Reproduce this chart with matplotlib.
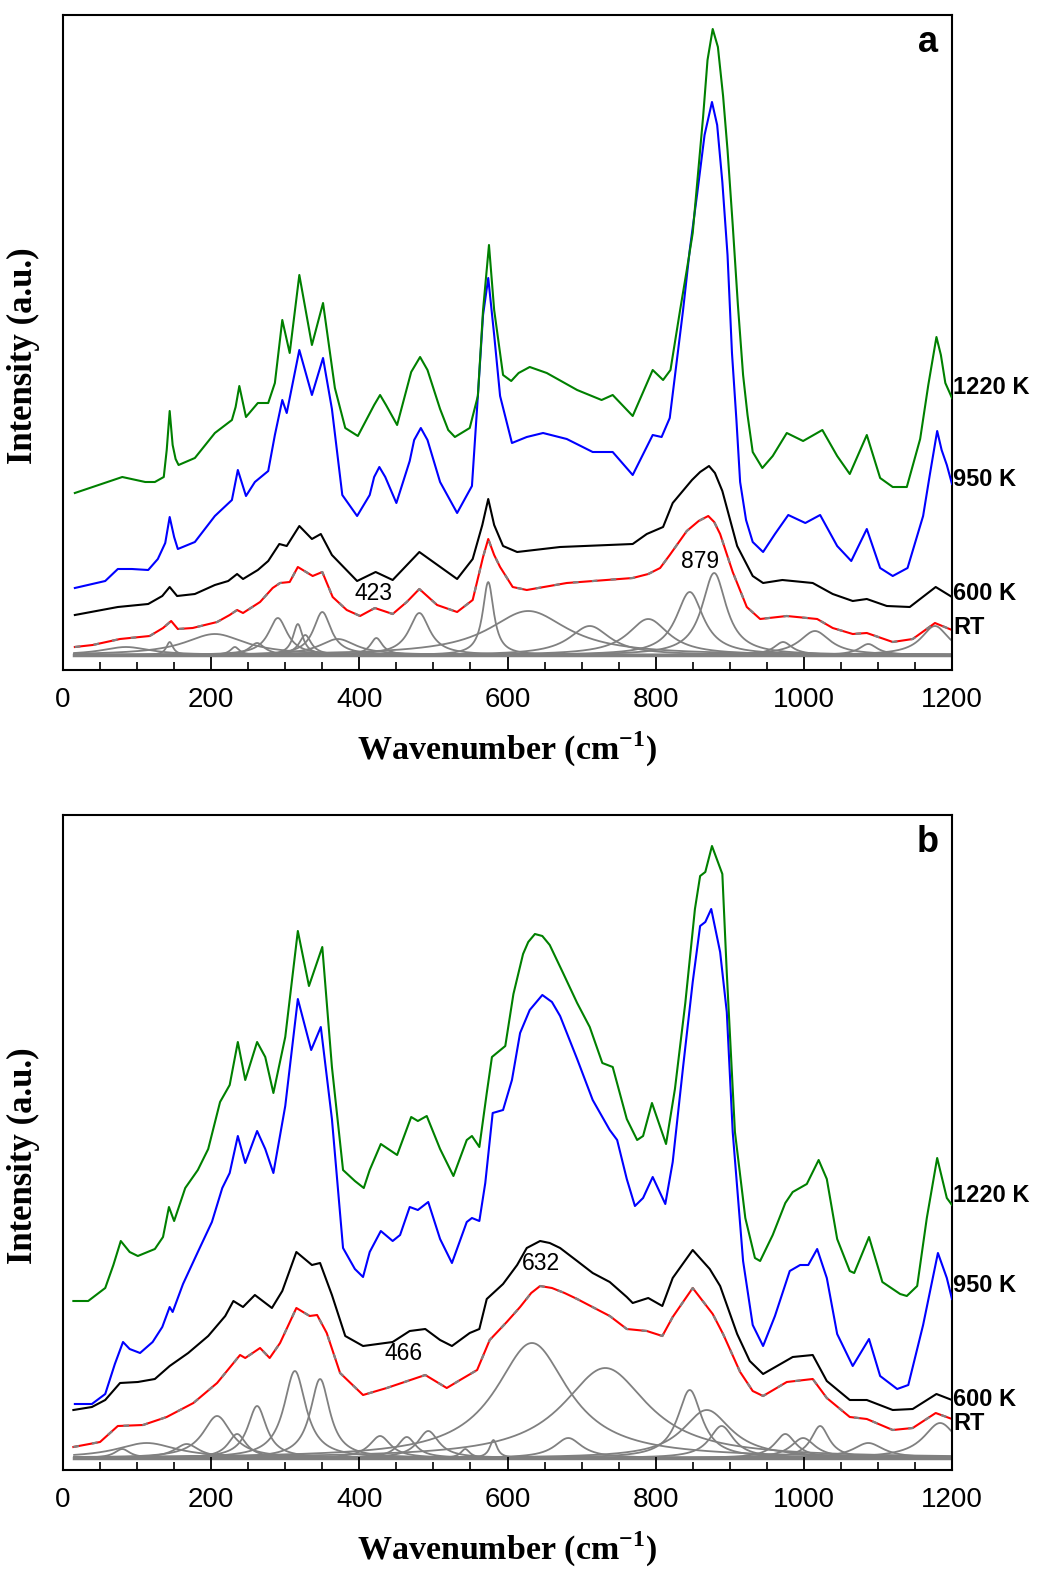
import numpy as np
import matplotlib
matplotlib.use('Agg')
import matplotlib.pyplot as plt
from matplotlib.ticker import MultipleLocator
import matplotlib.transforms as mtransforms

plt.rcParams['font.family'] = 'Liberation Sans'
plt.rcParams['mathtext.fontset'] = 'custom'
plt.rcParams['mathtext.rm'] = 'Liberation Serif:bold'
plt.rcParams['mathtext.bf'] = 'Liberation Serif:bold'

# ---- panel a : spectra (wavenumber, intensity in a.u.) ----
a_green_wn = [16, 80, 111, 124, 136, 140, 144, 148, 152, 156, 178, 205, 228, 233, 238, 247, 263, 277, 286, 296,
              306, 319, 336, 351, 367, 381, 398, 420, 428, 436, 451, 470, 482, 492, 509, 520, 529, 549, 560, 567,
              575, 582, 594, 605, 615, 630, 653, 694, 727, 742, 769, 796, 810, 820, 833, 842, 850, 864, 870, 877,
              884, 891, 897, 904, 911, 918, 924, 931, 944, 958, 977, 999, 1025, 1045, 1062, 1085, 1103, 1120, 1139, 1157,
              1168, 1179, 1185, 1191, 1200]
a_green_int = [162, 178, 173, 173, 178, 205, 244, 210, 196, 190, 197, 222, 235, 248, 269, 238, 252, 252, 272, 335,
               302, 380, 310, 352, 267, 227, 219, 250, 260, 250, 230, 283, 298, 285, 246, 225, 218, 227, 259, 345,
               410, 345, 280, 274, 282, 288, 282, 265, 255, 260, 239, 285, 275, 285, 345, 385, 422, 538, 595, 626,
               608, 559, 505, 430, 350, 280, 240, 203, 187, 199, 222, 214, 225, 199, 181, 220, 177, 168, 168, 216,
               270, 318, 300, 272, 257]

a_blue_wn = [16, 57, 74, 93, 115, 128, 138, 144, 150, 155, 178, 205, 228, 236, 247, 259, 277, 286, 296, 302,
             319, 336, 351, 363, 377, 397, 414, 420, 427, 435, 450, 468, 474, 483, 492, 509, 532, 552, 560, 567,
             574, 582, 590, 606, 626, 648, 680, 715, 742, 769, 796, 808, 819, 837, 846, 856, 866, 876, 883, 890,
             897, 903, 909, 914, 922, 931, 945, 961, 979, 1002, 1022, 1045, 1064, 1085, 1103, 1120, 1140, 1161, 1170, 1180,
             1186, 1193, 1200]
a_blue_int = [67, 74, 86, 86, 85, 96, 112, 138, 118, 106, 113, 139, 155, 185, 159, 173, 184, 220, 255, 242,
              305, 260, 297, 246, 160, 139, 160, 178, 188, 178, 152, 194, 215, 227, 215, 173, 142, 169, 259, 340,
              377, 320, 259, 212, 218, 222, 216, 203, 203, 180, 220, 218, 237, 345, 405, 461, 520, 553, 530, 473,
              400, 302, 235, 173, 135, 113, 103, 121, 140, 132, 140, 109, 94, 126, 87, 79, 87, 139, 180, 224,
              205, 190, 171]

a_black_wn = [16, 74, 115, 134, 144, 154, 178, 205, 223, 235, 243, 263, 277, 292, 302, 319, 336, 348, 363, 397,
              422, 445, 481, 532, 553, 566, 574, 582, 594, 613, 671, 769, 788, 810, 823, 849, 860, 872, 880, 890,
              910, 931, 945, 971, 1012, 1039, 1066, 1085, 1112, 1143, 1178, 1200]
a_black_int = [40, 48, 51, 59, 68, 59, 61, 70, 74, 81, 76, 85, 94, 111, 109, 129, 116, 121, 100, 74,
               83, 75, 103, 76, 96, 130, 156, 130, 109, 103, 108, 111, 121, 128, 152, 175, 183, 189, 182, 164,
               109, 79, 72, 75, 72, 61, 54, 56, 49, 48, 68, 58]

a_red_wn = [16, 40, 77, 117, 135, 146, 155, 175, 208, 225, 235, 243, 266, 283, 293, 306, 317, 337, 350, 364,
            383, 401, 421, 445, 464, 481, 505, 532, 553, 567, 574, 582, 590, 607, 626, 680, 769, 790, 806, 819,
            842, 858, 871, 879, 887, 904, 923, 941, 977, 1018, 1039, 1066, 1085, 1120, 1147, 1177, 1200]
a_red_int = [8, 10, 16, 19, 27, 34, 26, 27, 33, 40, 45, 42, 53, 67, 72, 73, 88, 79, 83, 58,
             45, 39, 47, 41, 53, 66, 50, 43, 55, 98, 116, 100, 88, 68, 65, 72, 77, 81, 87, 100,
             124, 134, 139, 133, 121, 83, 48, 36, 39, 36, 27, 21, 22, 13, 16, 32, 25]

# fitted bands of the RT spectrum (centre, height, FWHM)
a_band_pos = [85, 144, 205, 232, 262, 290, 317, 327, 350, 371, 423, 481, 574, 628, 711, 790, 846, 879, 972, 1015, 1087, 1177]
a_band_height = [8, 13, 21, 8, 12, 37, 31, 20, 43, 16, 17, 42, 73, 44, 29, 36, 63, 82, 13, 24, 11, 29]
a_band_fwhm = [80, 11, 100, 15, 25, 31, 16, 20, 29, 60, 20, 34, 18, 130, 67, 67, 45, 40, 30, 50, 30, 45]

# ---- panel b ----
b_green_wn = [14, 34, 57, 68, 78, 90, 101, 124, 135, 143, 150, 165, 182, 196, 212, 225, 236, 246, 262, 273,
              284, 300, 317, 332, 350, 363, 378, 394, 406, 414, 429, 451, 470, 479, 491, 509, 527, 545, 552, 562,
              572, 579, 597, 608, 621, 628, 637, 647, 657, 675, 694, 711, 728, 742, 761, 775, 783, 795, 814, 826,
              840, 853, 860, 867, 876, 890, 896, 907, 921, 934, 941, 958, 975, 985, 1004, 1020, 1031, 1045, 1062, 1068,
              1088, 1106, 1130, 1139, 1153, 1166, 1180, 1193, 1200]
b_green_int = [157, 157, 170, 193, 217, 206, 202, 209, 221, 251, 237, 270, 288, 309, 356, 373, 416, 378, 416, 401,
               365, 421, 527, 472, 511, 391, 288, 277, 270, 288, 314, 303, 341, 337, 342, 309, 282, 318, 322, 311,
               365, 401, 412, 464, 504, 516, 524, 522, 513, 485, 455, 431, 395, 391, 339, 318, 322, 355, 314, 369,
               455, 549, 582, 586, 612, 584, 485, 326, 240, 200, 197, 223, 255, 266, 274, 298, 279, 219, 187, 185,
               221, 176, 164, 162, 172, 240, 300, 260, 253]

b_blue_wn = [16, 39, 57, 70, 81, 90, 104, 121, 134, 144, 148, 162, 182, 201, 215, 225, 236, 246, 262, 273,
             284, 300, 317, 335, 348, 363, 378, 394, 405, 414, 429, 445, 455, 468, 479, 493, 509, 525, 545, 552,
             562, 570, 580, 594, 606, 617, 630, 647, 660, 671, 694, 715, 738, 748, 761, 772, 783, 796, 813, 823,
             837, 850, 860, 867, 875, 887, 896, 904, 918, 931, 945, 961, 981, 995, 1006, 1018, 1031, 1045, 1066, 1088,
             1103, 1126, 1141, 1161, 1181, 1193, 1200]
b_blue_int = [54, 54, 64, 94, 116, 109, 105, 116, 131, 151, 146, 174, 206, 236, 270, 285, 322, 295, 327, 309,
              285, 352, 459, 408, 431, 339, 210, 189, 181, 206, 227, 217, 223, 251, 248, 256, 219, 195, 236, 240,
              237, 275, 345, 348, 378, 425, 448, 463, 456, 442, 399, 358, 328, 318, 279, 252, 260, 281, 254, 296,
              391, 476, 532, 536, 549, 506, 446, 326, 197, 133, 112, 142, 187, 193, 193, 209, 180, 124, 92, 119,
              82, 69, 73, 133, 205, 180, 159]

b_black_wn = [14, 39, 57, 77, 101, 124, 144, 169, 196, 219, 230, 243, 259, 282, 296, 315, 336, 347, 363, 381,
              405, 445, 468, 489, 509, 525, 549, 562, 572, 594, 613, 626, 644, 657, 671, 694, 715, 738, 761, 769,
              790, 809, 823, 850, 873, 887, 910, 927, 945, 985, 1012, 1031, 1062, 1085, 1120, 1147, 1179, 1200]
b_black_int = [48, 51, 58, 75, 76, 79, 92, 105, 122, 142, 157, 151, 163, 150, 167, 206, 193, 195, 163, 122,
               112, 116, 127, 129, 118, 112, 125, 129, 159, 174, 193, 210, 217, 215, 210, 197, 185, 176, 161, 155,
               160, 152, 180, 208, 189, 172, 124, 97, 84, 101, 103, 77, 58, 58, 48, 49, 64, 58]

b_red_wn = [14, 50, 74, 108, 140, 176, 208, 239, 246, 266, 279, 293, 315, 333, 343, 356, 374, 405, 437, 489,
            518, 536, 559, 576, 599, 617, 632, 644, 660, 677, 694, 738, 761, 788, 809, 823, 850, 877, 891, 914,
            931, 945, 977, 1012, 1031, 1062, 1085, 1120, 1147, 1178, 1200]
b_red_int = [11, 16, 32, 33, 41, 55, 75, 103, 100, 110, 100, 115, 150, 142, 143, 125, 85, 63, 70, 83,
             70, 78, 88, 118, 136, 151, 165, 172, 170, 165, 159, 142, 129, 127, 122, 141, 170, 144, 124, 86,
             67, 62, 76, 79, 60, 41, 39, 28, 30, 45, 39]

b_band_pos = [80, 113, 167, 208, 235, 262, 313, 347, 428, 464, 493, 543, 581, 633, 682, 732, 846, 869, 889, 975, 999, 1022, 1087, 1184]
b_band_height = [9, 15, 14, 42, 24, 52, 87, 79, 22, 21, 27, 9, 18, 115, 20, 90, 68, 48, 32, 24, 20, 32, 15, 35]
b_band_fwhm = [25, 100, 40, 47, 30, 31, 36, 32, 35, 30, 35, 15, 12, 120, 45, 140, 40, 80, 40, 35, 40, 30, 50, 55]

temp_labels = ['1220 K', '950 K', '600 K', 'RT']
a_label_y = [267, 175, 61, 27]
b_label_y = [263, 172, 58, 34]


def draw_panel(ax, spectra, bands, label_y, notes, letter, ylim):
    wn = np.arange(15, 1201, 1.0)
    pos, height, fwhm = bands
    for c, h, w in zip(pos, height, fwhm):
        ax.plot(wn, h / (1 + ((wn - c) / (w / 2)) ** 2), color='#808080', lw=1.3, zorder=1)
    ax.plot([wn[0], wn[-1]], [0, 0], color='#808080', lw=2.5, zorder=1)

    (gx, gy), (bx, by), (kx, ky), (rx, ry) = spectra
    ax.plot(rx, ry, color='red', lw=1.5, zorder=2)
    ax.plot(rx, ry, color='#808080', lw=1.6, dashes=(2.5, 6), zorder=3)
    ax.plot(kx, ky, color='black', lw=1.5, zorder=4)
    ax.plot(bx, by, color='blue', lw=1.5, zorder=5)
    ax.plot(gx, gy, color='green', lw=1.5, zorder=6)

    trans = mtransforms.blended_transform_factory(ax.transAxes, ax.transData)
    for txt, yy in zip(temp_labels, label_y):
        ax.text(1.001, yy, txt, transform=trans, fontsize=17, fontweight='bold',
                ha='left', va='center', clip_on=False)
    for txt, xx, yy in notes:
        ax.text(xx, yy, txt, fontsize=16.5, ha='center', va='center')
    ax.text(0.973, 0.958, letter, transform=ax.transAxes, fontsize=26,
            fontweight='bold', ha='center', va='center')

    ax.set_xlim(0, 1200)
    ax.set_ylim(*ylim)
    ax.xaxis.set_major_locator(MultipleLocator(200))
    ax.xaxis.set_minor_locator(MultipleLocator(50))
    ax.set_yticks([])
    ax.tick_params(axis='x', which='major', direction='in', length=9.5, width=1.3,
                   labelsize=20, pad=12, top=False)
    ax.tick_params(axis='x', which='minor', direction='in', length=5.8, width=1.2, top=False)
    for s in ax.spines.values():
        s.set_linewidth(1.5)
    ax.set_xlabel(r'Wavenumber (cm$^{\mathbf{-1}}$)', fontsize=24.5, fontweight='bold',
                  family='Liberation Serif', labelpad=12)
    ax.set_ylabel('Intensity (a.u.)', fontsize=25, fontweight='bold',
                  family='Liberation Serif')
    ax.yaxis.set_label_coords(-0.026, 0.48)


fig = plt.figure(figsize=(10.38, 15.69), dpi=100)
ax_a = fig.add_axes([63 / 1038, 1 - 670 / 1569, 889 / 1038, 655 / 1569])
ax_b = fig.add_axes([63 / 1038, 1 - 1470 / 1569, 889 / 1038, 655 / 1569])

draw_panel(ax_a,
           [(a_green_wn, a_green_int), (a_blue_wn, a_blue_int), (a_black_wn, a_black_int), (a_red_wn, a_red_int)],
           (a_band_pos, a_band_height, a_band_fwhm), a_label_y,
           [('423', 419, 61), ('879', 860, 94)], 'a', (-15, 640))
draw_panel(ax_b,
           [(b_green_wn, b_green_int), (b_blue_wn, b_blue_int), (b_black_wn, b_black_int), (b_red_wn, b_red_int)],
           (b_band_pos, b_band_height, b_band_fwhm), b_label_y,
           [('466', 460, 104), ('632', 645, 194)], 'b', (-12, 643))

fig.savefig('out.png', dpi=100)
